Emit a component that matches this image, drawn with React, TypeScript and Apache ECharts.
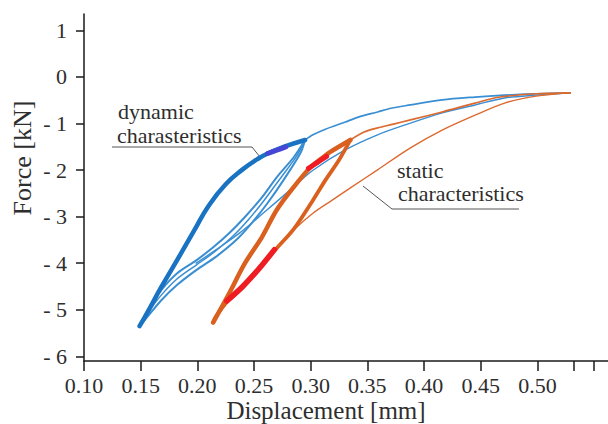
import React, { useEffect, useRef } from "react";
import * as echarts from "echarts";

// Axis settings
const X_MIN = 0.1;
const X_MAX = 0.5623;
const X_STEP = 0.05;
const Y_DATA_MIN = -6.086;
const Y_DATA_MAX = 1.349;
const Y_TICK_MIN = -6;
const Y_TICK_MAX = 1;
const Y_STEP = 1;

// Dynamic characteristics (blue)
const blueOuter = [
  [0.149, -5.34], [0.157, -5.0], [0.168, -4.51], [0.182, -3.93], [0.197, -3.3],
  [0.21, -2.76], [0.225, -2.3], [0.24, -1.98], [0.253, -1.76], [0.262, -1.64],
  [0.276, -1.5], [0.295, -1.35],
];
const bluePurple = [[0.262, -1.64], [0.27, -1.57], [0.278, -1.5]];
const blueReturnA = [
  [0.295, -1.35], [0.285, -1.72], [0.27, -2.15], [0.257, -2.58], [0.242, -3.0],
  [0.228, -3.35], [0.214, -3.65], [0.199, -3.93], [0.182, -4.21], [0.168, -4.57],
  [0.157, -4.96], [0.149, -5.34],
];
const blueReturnB = [
  [0.295, -1.35], [0.291, -1.63], [0.276, -2.21], [0.262, -2.7], [0.248, -3.13],
  [0.234, -3.5], [0.216, -3.86], [0.199, -4.14], [0.182, -4.46], [0.168, -4.79],
  [0.157, -5.11], [0.149, -5.34],
];
const blueReturnC = [
  [0.295, -1.35], [0.288, -1.68], [0.273, -2.18], [0.259, -2.64], [0.245, -3.06],
  [0.231, -3.42], [0.215, -3.75], [0.199, -4.03], [0.182, -4.33], [0.168, -4.68],
  [0.157, -5.03], [0.149, -5.34],
];
const blueUpper = [
  [0.295, -1.35], [0.302, -1.24], [0.313, -1.12], [0.33, -0.97], [0.342, -0.86],
  [0.359, -0.75], [0.371, -0.67], [0.388, -0.6], [0.416, -0.49], [0.445, -0.43],
  [0.471, -0.39], [0.499, -0.36], [0.529, -0.34],
];
const blueLower = [
  [0.529, -0.34], [0.499, -0.39], [0.471, -0.45], [0.445, -0.6], [0.416, -0.77],
  [0.388, -0.99], [0.359, -1.24], [0.33, -1.57], [0.302, -2.0], [0.282, -2.42],
  [0.259, -2.9], [0.238, -3.33], [0.216, -3.71], [0.199, -3.99],
];

// Static characteristics (orange)
const orangeUpper = [
  [0.335, -1.35], [0.347, -1.18], [0.359, -1.09], [0.373, -1.01], [0.388, -0.92],
  [0.416, -0.75], [0.445, -0.56], [0.467, -0.43], [0.499, -0.36], [0.529, -0.34],
];
const orangeLower = [
  [0.529, -0.34], [0.499, -0.41], [0.471, -0.56], [0.445, -0.82], [0.416, -1.14],
  [0.388, -1.52], [0.359, -1.99], [0.336, -2.36], [0.319, -2.64], [0.302, -2.92],
  [0.285, -3.28], [0.274, -3.56], [0.251, -4.14], [0.234, -4.61], [0.214, -5.24],
];
const orangeLeft = [
  [0.214, -5.26], [0.228, -4.64], [0.242, -3.99], [0.257, -3.43], [0.27, -2.85],
  [0.285, -2.36], [0.3, -1.93], [0.311, -1.72], [0.317, -1.61], [0.335, -1.35],
];
const orangeRight = [
  [0.335, -1.35], [0.325, -1.78], [0.313, -2.21], [0.302, -2.64], [0.285, -3.26],
  [0.27, -3.67], [0.253, -4.14], [0.24, -4.51], [0.225, -4.85], [0.216, -5.15],
  [0.214, -5.26],
];
const redLeft = [[0.298, -1.96], [0.306, -1.83], [0.314, -1.7]];
const redRight = [[0.226, -4.8], [0.24, -4.49], [0.254, -4.12], [0.268, -3.7]];

const FONT = '"Liberation Serif", "Times New Roman", serif';
const AXIS_COLOR = "#1a1a1a";
const TEXT_COLOR = "#2e2e2e";

function fmtY(v: number): string {
  if (v < 0) return "- " + Math.abs(v);
  return String(v);
}
function fmtX(v: number): string {
  const k = v / X_STEP;
  if (Math.abs(k - Math.round(k)) < 1e-6 && v <= 0.5 + 1e-9) return v.toFixed(2);
  return "";
}

function line(data: number[][], color: string, width: number, z: number, smooth = 0.3) {
  return {
    type: "line",
    xAxisIndex: 0,
    yAxisIndex: 0,
    data,
    smooth,
    showSymbol: false,
    symbol: "none",
    silent: true,
    z,
    lineStyle: { color, width, cap: "round", join: "round" },
  };
}

export default function App() {
  const ref = useRef<HTMLDivElement>(null);
  useEffect(() => {
    if (!ref.current) return;
    const chart = echarts.init(ref.current, undefined, { renderer: "svg" });
    const blue = "#1a73c2";
    const blueLight = "#3a8ed2";
    const orange = "#d9601e";
    const orangeThin = "#dc6a2e";
    const red = "#f01c24";
    const purple = "#4545d6";
    const axisLine = { show: true, onZero: false, lineStyle: { color: AXIS_COLOR, width: 1.5 } };
    const labelText = { fontFamily: FONT, fontSize: 22, color: TEXT_COLOR };
    chart.setOption({
      animation: false,
      grid: [
        { left: 84, top: 14, width: 540, height: 347 },
        { left: 84, top: 30.3, width: 540, height: 326 },
      ],
      xAxis: [
        {
          gridIndex: 0,
          type: "value",
          min: X_MIN,
          max: X_MAX,
          interval: X_STEP,
          axisLine,
          axisTick: { show: true, length: 10, lineStyle: { color: AXIS_COLOR, width: 1.5 } },
          axisLabel: { ...labelText, margin: 13, formatter: fmtX, showMaxLabel: false },
          splitLine: { show: false },
        },
        { gridIndex: 1, type: "value", show: false, min: 0, max: 1 },
      ],
      yAxis: [
        {
          gridIndex: 0,
          type: "value",
          min: Y_DATA_MIN,
          max: Y_DATA_MAX,
          axisLine,
          axisTick: { show: false },
          axisLabel: { show: false },
          splitLine: { show: false },
        },
        {
          gridIndex: 1,
          type: "value",
          min: Y_TICK_MIN,
          max: Y_TICK_MAX,
          interval: Y_STEP,
          axisLine: { show: false, onZero: false },
          axisTick: { show: true, length: 8, lineStyle: { color: AXIS_COLOR, width: 1.5 } },
          axisLabel: { ...labelText, margin: 17, formatter: fmtY },
          splitLine: { show: false },
        },
      ],
      series: [
        line(blueUpper, blueLight, 1.7, 2),
        line(blueLower, blueLight, 1.4, 2),
        line(orangeUpper, orangeThin, 1.7, 2),
        line(orangeLower, orangeThin, 1.4, 2),
        line(blueReturnA, blueLight, 2, 3),
        line(blueReturnB, blueLight, 2, 3),
        line(blueReturnC, blueLight, 1.5, 3),
        line(blueOuter, blue, 4.5, 4, 0.5),
        line(orangeLeft, orange, 4.5, 4),
        line(orangeRight, orange, 3.8, 4),
        line(bluePurple, purple, 5, 5),
        line(redLeft, red, 5, 5),
        line(redRight, red, 5.5, 5),
      ],
      graphic: [
        {
          type: "text",
          x: 22,
          y: 158,
          rotation: Math.PI / 2,
          style: {
            text: "Force [kN]",
            font: `26px ${FONT}`,
            fill: TEXT_COLOR,
            textAlign: "center",
            textVerticalAlign: "middle",
          },
        },
        {
          type: "text",
          x: 326,
          y: 410,
          style: {
            text: "Displacement [mm]",
            font: `25px ${FONT}`,
            fill: TEXT_COLOR,
            textAlign: "center",
            textVerticalAlign: "middle",
          },
        },
        {
          type: "text",
          x: 118,
          y: 111,
          style: { text: "dynamic", font: `22px ${FONT}`, fill: TEXT_COLOR, textAlign: "left", textVerticalAlign: "middle" },
        },
        {
          type: "text",
          x: 117,
          y: 135,
          style: { text: "charasteristics", font: `22px ${FONT}`, fill: TEXT_COLOR, textAlign: "left", textVerticalAlign: "middle" },
        },
        {
          type: "text",
          x: 397,
          y: 170,
          style: { text: "static", font: `22px ${FONT}`, fill: TEXT_COLOR, textAlign: "left", textVerticalAlign: "middle" },
        },
        {
          type: "text",
          x: 398,
          y: 193,
          style: { text: "characteristics", font: `22px ${FONT}`, fill: TEXT_COLOR, textAlign: "left", textVerticalAlign: "middle" },
        },
        {
          type: "polyline",
          shape: { points: [[112, 147], [252, 147], [260, 157]] },
          style: { stroke: "#555", lineWidth: 1, fill: "none" },
        },
        {
          type: "polyline",
          shape: { points: [[519, 209], [392, 209], [363, 186]] },
          style: { stroke: "#555", lineWidth: 1, fill: "none" },
        },
        {
          type: "line",
          shape: { x1: 574, y1: 361, x2: 574, y2: 371 },
          style: { stroke: AXIS_COLOR, lineWidth: 1.5 },
        },
      ],
    });
    return () => chart.dispose();
  }, []);
  return (
    <div
      ref={ref}
      style={{ position: "absolute", left: 0, top: 0, width: 608, height: 424, background: "#fff" }}
    />
  );
}
